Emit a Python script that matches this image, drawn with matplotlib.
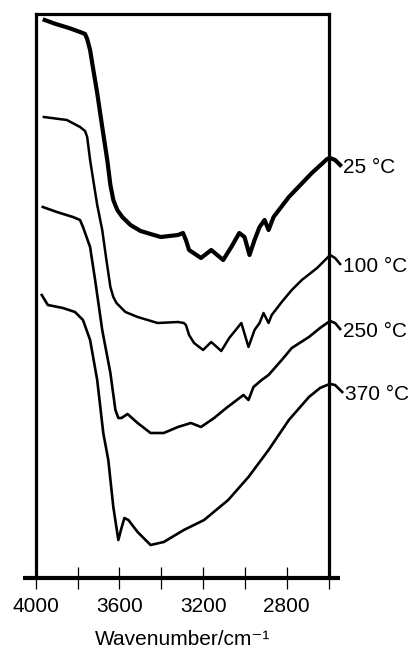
import numpy as np
import matplotlib
matplotlib.use('Agg')
import matplotlib.pyplot as plt

plt.rcParams['font.family'] = ['Liberation Sans', 'DejaVu Sans']

# spectra: wavenumber (cm-1) and transmittance (a.u.)
wn_25 = [3957, 3904, 3841, 3788, 3764, 3754, 3740, 3730, 3706, 3682, 3658, 3643, 3629, 3610,
         3586, 3547, 3499, 3451, 3402, 3320, 3296, 3282, 3267, 3210, 3161, 3104, 3065, 3027,
         3002, 2978, 2954, 2930, 2906, 2887, 2863, 2790, 2680, 2607, 2593, 2569, 2545]
t_25 = [558, 554, 550, 546, 544, 539, 528, 515, 485, 451, 418, 393, 378, 368,
        361, 353, 347, 344, 341, 343, 345, 338, 328, 320, 328, 318, 331, 345,
        341, 323, 338, 351, 358, 348, 361, 381, 405, 419, 420, 418, 413]

wn_100 = [3961, 3851, 3788, 3764, 3754, 3740, 3725, 3706, 3682, 3662, 3643, 3629, 3614, 3595,
          3571, 3513, 3417, 3320, 3292, 3282, 3267, 3243, 3200, 3161, 3113, 3075, 3017, 2983,
          2954, 2930, 2911, 2887, 2872, 2824, 2776, 2728, 2655, 2607, 2593, 2569, 2545]
t_100 = [461, 458, 451, 447, 441, 418, 398, 373, 348, 318, 291, 281, 275, 271,
         266, 261, 255, 256, 255, 253, 243, 235, 228, 236, 227, 240, 255, 231,
         248, 255, 265, 255, 263, 276, 288, 298, 310, 320, 323, 320, 314]

wn_250 = [3966, 3899, 3822, 3788, 3774, 3740, 3716, 3682, 3643, 3619, 3605, 3590, 3561, 3513,
          3451, 3388, 3320, 3258, 3210, 3147, 3089, 3007, 2983, 2959, 2920, 2887, 2824, 2776,
          2694, 2641, 2607, 2593, 2569, 2545]
t_250 = [371, 366, 361, 358, 351, 331, 298, 248, 205, 168, 160, 160, 164, 155,
         145, 145, 151, 155, 151, 160, 170, 183, 178, 191, 198, 203, 218, 230,
         241, 250, 255, 257, 255, 249]

wn_370 = [3971, 3942, 3870, 3812, 3774, 3740, 3706, 3677, 3653, 3629, 3605, 3590, 3576, 3557,
          3513, 3451, 3388, 3292, 3195, 3080, 2983, 2887, 2790, 2694, 2641, 2607, 2593, 2569,
          2535]
t_370 = [283, 273, 270, 266, 258, 238, 198, 145, 118, 71, 38, 50, 60, 58,
         46, 33, 36, 48, 58, 78, 101, 128, 158, 181, 190, 193, 194, 193,
         186]

series = [
    (wn_25, t_25, '25 °C', 3.0),
    (wn_100, t_100, '100 °C', 1.8),
    (wn_250, t_250, '250 °C', 1.9),
    (wn_370, t_370, '370 °C', 1.9),
]

tick_pos = [4000, 3800, 3600, 3400, 3200, 3000, 2800, 2600]
tick_labels = ['4000', '', '3600', '', '3200', '', '2800', '']

fig = plt.figure(figsize=(4.13, 6.48), dpi=100)
ax = fig.add_axes([35.7 / 413, 70 / 648, 292.9 / 413, 564 / 648])

for wn, t, name, lw in series:
    ax.plot(wn, t, color='black', lw=lw, clip_on=False, solid_joinstyle='round')
    ax.annotate(name, xy=(wn[-1], t[-1]), xytext=(2, -2), textcoords='offset points',
                ha='left', va='center', fontsize=15, annotation_clip=False)

ax.set_xlim(4000, 2600)
ax.set_ylim(0, 564)
ax.set_yticks([])
ax.set_xticks(tick_pos)
ax.set_xticklabels(tick_labels, fontsize=15)
ax.tick_params(axis='x', direction='inout', length=16.5, width=0.9, pad=5.5)

for side in ['left', 'top', 'right']:
    ax.spines[side].set_linewidth(2.3)
ax.spines['bottom'].set_visible(False)
# bottom axis line runs a little past the frame on both sides
ax.plot([-0.043, 1.039], [0, 0], transform=ax.transAxes, color='black', lw=3,
        clip_on=False, solid_capstyle='butt')

ax.set_xlabel('Wavenumber/cm⁻¹', fontsize=15, labelpad=10)

plt.savefig('out.png', dpi=100)
plt.close()
